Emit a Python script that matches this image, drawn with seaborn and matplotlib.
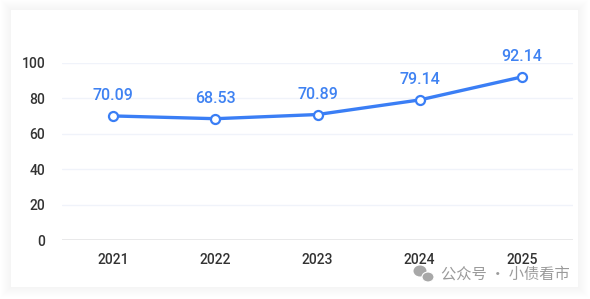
import matplotlib
matplotlib.use("Agg")
import matplotlib.pyplot as plt
import seaborn as sns
import pandas as pd
from matplotlib.patches import FancyBboxPatch, Ellipse

years = ["2021", "2022", "2023", "2024", "2025"]
values = [70.09, 68.53, 70.89, 79.14, 92.14]
yticks = [0, 20, 40, 60, 80, 100]
watermark = "公众号 · 小债看市"

sns.set_theme(style="white")
plt.rcParams['font.family'] = ['Roboto', 'DejaVu Sans']

df = pd.DataFrame({"year": years, "value": values})

W, H = 590, 299
fig = plt.figure(figsize=(W / 100, H / 100), dpi=100)
fig.patch.set_facecolor("white")

# card with soft shadow
x0, y0, x1, y1 = 11, 10, 578, 287
for i in range(10):
    pad = 10 - i
    r = FancyBboxPatch(((x0 - pad) / W, 1 - (y1 + pad) / H),
                       (x1 - x0 + 2 * pad) / W, (y1 - y0 + 2 * pad) / H,
                       boxstyle="square,pad=0",
                       transform=fig.transFigure, facecolor="black",
                       edgecolor="none", alpha=0.005, zorder=0)
    fig.patches.append(r)
card = FancyBboxPatch((x0 / W, 1 - y1 / H), (x1 - x0) / W, (y1 - y0) / H,
                      boxstyle="square,pad=0", transform=fig.transFigure,
                      facecolor="white", edgecolor="none", zorder=1)
fig.patches.append(card)

ax = fig.add_axes([62 / W, 1 - 240 / H, (573 - 62) / W, (240 - 63) / H])
ax.set_facecolor("none")
ax.set_zorder(2)

sns.lineplot(data=df, x="year", y="value", ax=ax, color="#3a7ef5",
             linewidth=2.4, marker="o", markersize=6.5,
             markerfacecolor="white", markeredgecolor="#3a7ef5",
             markeredgewidth=1.6, clip_on=False, sort=False)

ax.set_xlim(-0.5, len(years) - 0.5)
ax.set_ylim(0, 100)
ax.set_yticks(yticks)
ax.set_yticklabels([str(t) for t in yticks])
ax.yaxis.grid(True, color="#f0f3fa", linewidth=1)
ax.axhline(0, color="#e6e6e6", linewidth=1.2, zorder=1)
for s in ax.spines.values():
    s.set_visible(False)
ax.set_xlabel("")
ax.set_ylabel("")
ax.tick_params(axis="both", length=0, colors="#333333", labelsize=10)
ax.tick_params(axis="y", pad=12)
ax.tick_params(axis="x", pad=9)
for lab in ax.get_xticklabels() + ax.get_yticklabels():
    lab.set_fontweight("medium")
    lab.set_color("#333333")

for i, v in enumerate(values):
    ax.annotate(f"{v:.2f}", (i, v), xytext=(0, 9), textcoords="offset points",
                ha="center", va="bottom", color="#3f82f2", fontsize=11.5,
                fontweight="medium", annotation_clip=False)

# watermark with simple chat icon
fig.patches.append(Ellipse((420 / W, 1 - 271 / H), 13 / W, 11 / H,
                           transform=fig.transFigure, facecolor="#a8a8a8",
                           edgecolor="none", zorder=5))
fig.patches.append(Ellipse((428 / W, 1 - 277 / H), 12 / W, 10 / H,
                           transform=fig.transFigure, facecolor="#a8a8a8",
                           edgecolor="white", linewidth=0.8, zorder=5))
fig.text(570 / W, 1 - 274 / H, watermark, ha="right", va="center",
         fontsize=11, color="#9a9a9a",
         family=["Noto Sans CJK SC", "DejaVu Sans"], zorder=5)

fig.savefig("out.png", dpi=100)
